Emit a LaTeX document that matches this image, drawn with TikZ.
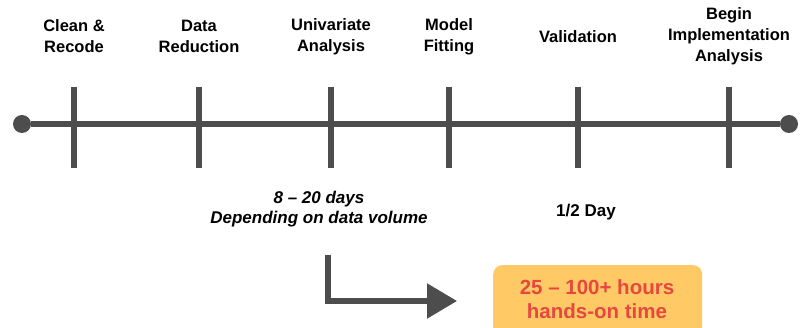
\documentclass[tikz,border=0pt]{standalone}
\usepackage{fontspec}
\setmainfont{Liberation Sans}
\usetikzlibrary{arrows.meta}
\definecolor{linegray}{HTML}{4D4D4D}
\definecolor{boxorange}{HTML}{FFCA66}
\definecolor{hourred}{HTML}{E8473F}
\begin{document}
\begin{tikzpicture}[x=1pt,y=-1pt,
  phase/.style={font=\fontsize{16.5}{21}\selectfont\bfseries, align=center, text=black},
  note/.style={font=\fontsize{17}{20}\selectfont\bfseries\itshape, align=center, text=black},
  tickline/.style={draw=linegray, line width=5.5pt},
  endpoint/.style={circle, fill=linegray, inner sep=0pt, minimum size=18pt},
  hoursbox/.style={fill=boxorange, rounded corners=9pt, minimum width=209pt,
    minimum height=72pt, anchor=north west, inner sep=0pt},
  hourstext/.style={align=center, text=hourred, font=\fontsize{20.5}{24}\selectfont\bfseries}]
  \useasboundingbox (0,0) rectangle (800,328);

  % timeline axis with end points
  \node[endpoint] (start) at (22,124) {};
  \node[endpoint] (end) at (789,124) {};
  \draw[tickline] (start) -- (end);

  % phase ticks
  \foreach \name/\x in {t1/74, t2/199, t3/331, t4/449, t5/578, t6/729} {
    \coordinate (\name top) at (\x,87);
    \coordinate (\name bot) at (\x,168);
    \draw[tickline] (\name top) -- (\name bot);
  }

  % phase labels
  \node[phase] (clean) at (74,36.5) {Clean \&\\Recode};
  \node[phase] (reduce) at (199,36.5) {Data\\Reduction};
  \node[phase] (univ) at (331,36.5) {Univariate\\Analysis};
  \node[phase] (model) at (449,36.5) {Model\\Fitting};
  \node[phase] (valid) at (578,37) {Validation};
  \node[phase] (begin) at (729,36) {Begin\\Implementation\\Analysis};

  % durations
  \node[note] (days) at (319,209) {8 -- 20 days\\Depending on data volume};
  \node[phase, font=\fontsize{17}{20}\selectfont\bfseries] (half) at (586,212) {1/2 Day};

  % hands-on time box
  \node[hoursbox] (hours) at (493,265) {};
  \node[hourstext] (hourslabel) at (597,299) {25 -- 100+ hours\\hands-on time};

  % elbow arrow towards the box
  \coordinate (elbowtop) at (328,255);
  \coordinate (elbow) at (328,301);
  \coordinate (tip) at (457,301);
  \draw[draw=linegray, line width=5.5pt, -{Triangle[length=30pt, width=34pt]}]
    (elbowtop) -- (elbow) -- (tip);
\end{tikzpicture}
\end{document}
